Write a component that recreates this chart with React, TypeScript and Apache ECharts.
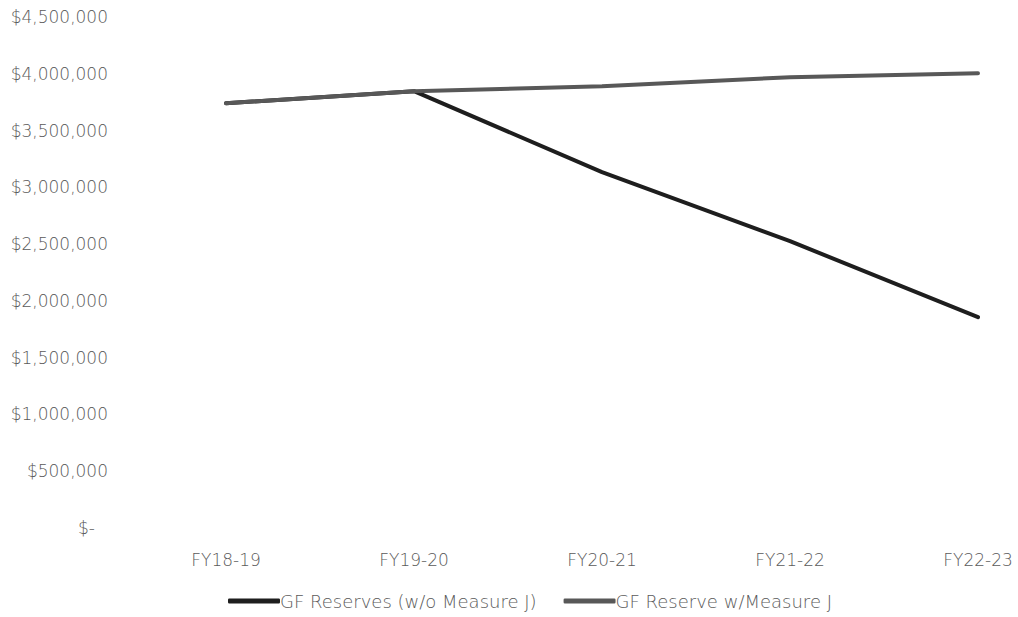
import React, { useEffect, useRef } from "react";
import * as echarts from "echarts";

const categories = ["FY18-19", "FY19-20", "FY20-21", "FY21-22", "FY22-23"];
const withoutMeasureJ = [3741000, 3847000, 3134000, 2526000, 1857000];
const withMeasureJ = [3741000, 3847000, 3890000, 3970000, 4005000];
const seriesNames = ["GF Reserves (w/o Measure J)", "GF Reserve w/Measure J"];

const FONT = "DejaVu Sans";
const TEXT_COLOR = "#5a5a5a";

const fmt = (v: number) => {
  if (v === 0) return "{z|$-}";
  return "$" + v.toLocaleString("en-US");
};

export default function App() {
  const ref = useRef<HTMLDivElement>(null);
  useEffect(() => {
    if (!ref.current) return;
    const chart = echarts.init(ref.current, undefined, { renderer: "svg" });
    chart.setOption({
      animation: false,
      backgroundColor: "#ffffff",
      grid: { left: 226, right: 40, top: 17, bottom: 89, containLabel: false },
      legend: {
        data: seriesNames,
        top: 592,
        left: 228,
        padding: 0,
        icon: "roundRect",
        itemWidth: 52,
        itemHeight: 5,
        itemGap: 27,
        textStyle: {
          fontFamily: FONT,
          fontWeight: 200,
          fontSize: 18,
          color: TEXT_COLOR,
          padding: [0, 0, 0, -5],
        },
      },
      xAxis: {
        type: "category",
        data: categories,
        boundaryGap: false,
        axisLine: { show: false },
        axisTick: { show: false },
        splitLine: { show: false },
        axisLabel: {
          fontFamily: FONT,
          fontWeight: 200,
          fontSize: 17,
          color: TEXT_COLOR,
          margin: 23,
        },
      },
      yAxis: {
        type: "value",
        min: 0,
        max: 4500000,
        interval: 500000,
        axisLine: { show: false },
        axisTick: { show: false },
        splitLine: { show: false },
        axisLabel: {
          fontFamily: FONT,
          fontWeight: 200,
          fontSize: 17,
          color: TEXT_COLOR,
          margin: 118,
          formatter: fmt,
          rich: {
            z: {
              fontFamily: FONT,
              fontWeight: 200,
              fontSize: 17,
              color: TEXT_COLOR,
              padding: [0, 13, 0, 0],
            },
          },
        },
      },
      series: [
        {
          name: seriesNames[0],
          type: "line",
          data: withoutMeasureJ,
          symbol: "none",
          lineStyle: { color: "#1e1e1e", width: 4, cap: "round" },
          itemStyle: { color: "#1e1e1e" },
        },
        {
          name: seriesNames[1],
          type: "line",
          data: withMeasureJ,
          symbol: "none",
          lineStyle: { color: "#585858", width: 4, cap: "round" },
          itemStyle: { color: "#585858" },
        },
      ],
    });
    return () => chart.dispose();
  }, []);
  return (
    <div
      ref={ref}
      style={{ position: "fixed", left: 0, top: 0, width: 1018, height: 617, background: "#fff" }}
    />
  );
}
